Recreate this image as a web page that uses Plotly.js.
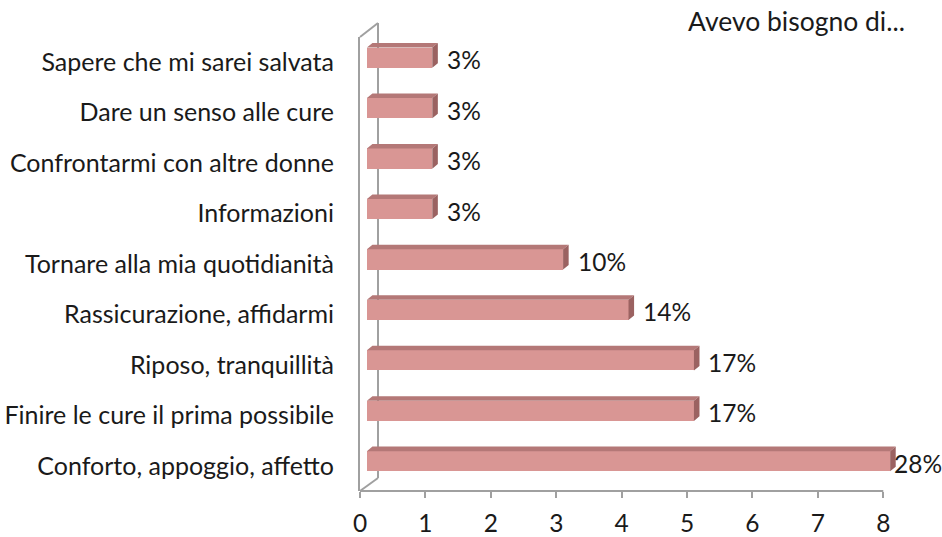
<!DOCTYPE html>
<html>
<head>
<meta charset="utf-8">
<script src="https://cdn.plot.ly/plotly-3.0.1.min.js"></script>
<style>html,body{margin:0;padding:0;background:#fff;}#chart{width:942px;height:537px;}</style>
</head>
<body>
<div id="chart"></div>
<script>
// Data (bottom to top)
const categories = [
  "Conforto, appoggio, affetto",
  "Finire le cure il prima possibile",
  "Riposo, tranquillità",
  "Rassicurazione, affidarmi",
  "Tornare alla mia quotidianità",
  "Informazioni",
  "Confrontarmi con altre donne",
  "Dare un senso alle cure",
  "Sapere che mi sarei salvata"
];
const counts = [8, 5, 5, 4, 3, 1, 1, 1, 1];
const percentLabels = ["28%", "17%", "17%", "14%", "10%", "3%", "3%", "3%", "3%"];
const xTickVals = [0, 1, 2, 3, 4, 5, 6, 7, 8];

// Style constants
const FONT = "Lato, 'Open Sans', sans-serif";
const FS = 25;
const TXT = "#1a1a1a";
const AX = "#a0a0a0";
const BASE = 0.105;     // front face start (3D floor offset)
const BW = 0.40;        // bar thickness
const OFF = -0.11;      // bar offset in category units
const DX = 0.085;       // depth in x units
const DY = 0.09;        // depth in y units

const idx = categories.map((_, i) => i);
const maxCount = Math.max(...counts);

const front = {
  type: 'bar', orientation: 'h',
  x: counts, y: idx, base: counts.map(() => BASE),
  width: BW, offset: OFF,
  marker: {color: '#d99694', line: {width: 0}},
  hoverinfo: 'skip', showlegend: false
};

const topX = [], topY = [], sideX = [], sideY = [];
counts.forEach((v, i) => {
  const x0 = BASE, x1 = BASE + v;
  const yb = i + OFF, yt = i + OFF + BW;
  topX.push(x0, x1, x1 + DX, x0 + DX, x0, null);
  topY.push(yt, yt, yt + DY, yt + DY, yt, null);
  sideX.push(x1, x1, x1 + DX, x1 + DX, x1, null);
  sideY.push(yb, yt, yt + DY, yb + DY, yb, null);
});
const topFace = {type: 'scatter', mode: 'lines', x: topX, y: topY, fill: 'toself',
  fillcolor: '#b47877', line: {width: 0, color: '#b47877'}, hoverinfo: 'skip', showlegend: false, connectgaps: false};
const sideFace = {type: 'scatter', mode: 'lines', x: sideX, y: sideY, fill: 'toself',
  fillcolor: '#9b6261', line: {width: 0, color: '#9b6261'}, hoverinfo: 'skip', showlegend: false, connectgaps: false};

const annotations = counts.map((v, i) => ({
  x: BASE + v + DX, y: i + 0.05, xref: 'x', yref: 'y',
  text: percentLabels[i], showarrow: false, xanchor: 'left', yanchor: 'middle',
  xshift: v === maxCount ? -4 : 7,
  font: {family: FONT, size: 24.5, color: TXT}
}));

const boundaries = [];
for (let i = 0; i <= categories.length; i++) boundaries.push(i - 0.5);

const layout = {
  width: 942, height: 537,
  margin: {l: 360, r: 26, t: 37, b: 46, pad: 0},
  paper_bgcolor: '#ffffff', plot_bgcolor: 'rgba(0,0,0,0)',
  font: {family: FONT, size: FS, color: TXT},
  title: {text: 'Avevo bisogno di...', x: 905/942, xanchor: 'right', xref: 'container',
          y: 1 - 22/537, yanchor: 'middle', yref: 'container',
          font: {family: FONT, size: 26.5, color: TXT}},
  showlegend: false,
  bargap: 0,
  xaxis: {range: [0, 8.5], tickmode: 'array', tickvals: xTickVals, ticktext: xTickVals.map(String),
          ticks: 'outside', ticklen: 6, tickwidth: 2, tickcolor: AX,
          showline: false, showgrid: false, zeroline: false, fixedrange: true,
          ticklabelstandoff: 5,
          tickfont: {family: FONT, size: 24.5, color: TXT}},
  yaxis: {range: [-0.5, 8.5], tickmode: 'array', tickvals: idx, ticktext: categories,
          ticks: '', showline: true, linecolor: AX, linewidth: 2,
          showgrid: false, zeroline: false, fixedrange: true,
          ticklabelstandoff: 19,
          tickfont: {family: FONT, size: FS, color: TXT}},
  yaxis2: {range: [-0.5, 8.5], overlaying: 'y', anchor: 'x', side: 'left',
           tickmode: 'array', tickvals: boundaries, showticklabels: false,
           ticks: 'outside', ticklen: 7, tickwidth: 2, tickcolor: AX,
           showline: false, showgrid: false, zeroline: false, fixedrange: true},
  shapes: [
    {type: 'line', xref: 'x', yref: 'paper', x0: 0, x1: 8, y0: 0, y1: 0, line: {color: AX, width: 2}, layer: 'above'},
    {type: 'line', xref: 'paper', yref: 'paper', x0: 18/556, x1: 18/556, y0: 13/454, y1: 1 + 14/454, line: {color: AX, width: 2}, layer: 'below'},
    {type: 'line', xref: 'paper', yref: 'paper', x0: 0, x1: 18/556, y0: 1, y1: 1 + 14/454, line: {color: AX, width: 2}, layer: 'below'},
    {type: 'line', xref: 'paper', yref: 'paper', x0: 0, x1: 18/556, y0: 0, y1: 13/454, line: {color: AX, width: 2}, layer: 'below'}
  ],
  annotations: annotations
};

Plotly.newPlot('chart', [front, topFace, sideFace], layout, {displayModeBar: false, staticPlot: true});
</script>
</body>
</html>
